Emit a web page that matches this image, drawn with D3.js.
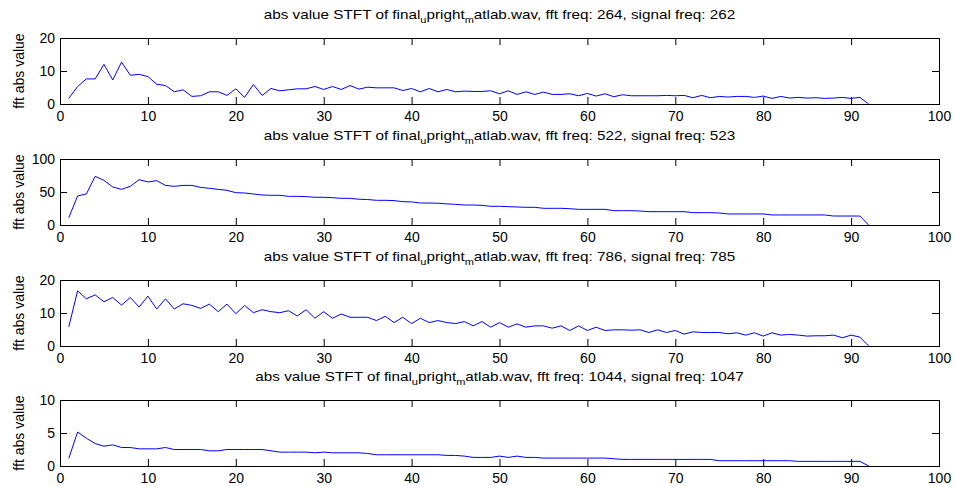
<!DOCTYPE html>
<html>
<head>
<meta charset="utf-8">
<script src="https://cdn.jsdelivr.net/npm/d3@7"></script>
<style>
  html, body { margin: 0; padding: 0; background: #fff; }
  svg { display: block; }
  text { font-family: "Liberation Sans", Arial, Helvetica, sans-serif; fill: #000; }
</style>
</head>
<body>
<svg id="chart" width="955" height="486"></svg>
<script>
// Frequency bins 1..92
const bins = d3.range(1, 93);

// |STFT| at each analysed frequency
const mag264 = [1.7,5.3,7.6,7.6,12.0,7.3,12.7,8.7,9.0,8.3,6.0,5.6,3.7,4.3,2.3,2.5,3.7,3.7,2.6,4.6,
  2.0,5.9,2.6,4.7,4.0,4.3,4.6,4.6,5.3,4.4,5.3,4.4,5.6,4.5,5.1,4.9,4.9,4.9,4.1,4.7,
  3.7,4.7,3.7,4.4,3.7,3.9,3.8,3.8,4.0,3.1,4.0,2.9,3.7,2.9,3.6,2.9,2.9,3.1,2.5,3.2,
  2.4,3.1,2.2,2.8,2.5,2.5,2.5,2.5,2.6,2.5,2.6,1.9,2.6,1.9,2.3,2.1,2.3,2.3,2.0,2.4,
  1.7,2.3,1.8,2.0,1.8,1.9,1.7,1.8,2.0,1.7,2.0,0];
const mag522 = [11.1,44,47,73.7,67.7,57.6,54,58.6,68.7,65.2,67.2,60,58.6,60,60,57,55.6,54,52.5,49,
  48.5,47,45.5,45,45,43.4,43.4,43,42,42,41.4,40.4,40.4,39,38.6,37.4,37.4,37,35.4,35,
  33.3,33.3,33,32,31.3,30.3,30.3,29.8,28.3,28.3,27.8,27.3,26.8,26.8,25.3,25.3,25.3,24.7,23.7,23.7,
  23.7,23.7,21.7,21.7,21.7,21.2,20.2,20.2,20.2,20.2,20.2,18.7,18.7,18.7,18.2,16.7,16.7,16.7,16.7,16.7,
  15.2,15.2,15.2,15.2,15.2,15.2,15.2,13.6,13.6,13.6,13.6,0];
const mag786 = [5.8,16.7,14.3,15.5,13.4,14.7,12.4,14.7,11.8,15.1,11.2,14.3,11.2,12.8,12.3,11.4,12.7,10.4,12.7,9.8,
  12.3,10.1,11.0,10.4,10.1,10.7,9.1,11.0,8.4,10.4,8.4,9.7,8.7,8.7,8.7,7.7,9.0,7.1,8.7,6.8,
  8.4,7.1,7.7,7.1,6.8,7.4,6.1,7.4,5.7,7.1,5.7,6.7,5.7,6.1,6.1,5.4,6.1,4.7,6.1,4.7,
  5.7,4.7,4.9,4.9,4.8,4.9,4.1,4.9,4.1,4.7,3.6,4.3,4.1,4.1,4.1,3.7,4.0,3.3,4.0,3.0,
  4.0,3.3,3.5,3.3,3.0,3.1,3.1,3.3,2.5,3.3,2.7,0];
const mag1044 = [1.16,5.15,4.2,3.4,3.0,3.2,2.8,2.8,2.6,2.6,2.6,2.8,2.5,2.5,2.5,2.5,2.3,2.3,2.5,2.5,
  2.5,2.5,2.5,2.3,2.1,2.1,2.1,2.1,2.0,2.1,2.0,2.0,2.0,2.0,1.9,1.7,1.7,1.7,1.7,1.7,
  1.7,1.7,1.7,1.6,1.6,1.5,1.3,1.3,1.3,1.5,1.3,1.5,1.3,1.3,1.2,1.2,1.2,1.2,1.2,1.2,
  1.2,1.2,1.1,1.0,1.0,1.0,1.0,1.0,1.0,1.0,1.0,1.0,1.0,1.0,0.8,0.8,0.8,0.8,0.8,0.8,
  0.8,0.8,0.8,0.7,0.7,0.7,0.7,0.7,0.7,0.7,0.7,0];

const fftFreqs = [264, 522, 786, 1044];
const signalFreqs = [262, 523, 785, 1047];
const series = [mag264, mag522, mag786, mag1044];
const yMaxes = [20, 100, 20, 10];
const yTickSets = [[0,10,20],[0,50,100],[0,10,20],[0,5,10]];
const xTicks = [0,10,20,30,40,50,60,70,80,90,100];
const yLabel = "fft abs value";

const svg = d3.select("#chart");
const left = 60, right = 939, plotH = 66;
const tops = [38, 159, 280, 400];
const tickLen = 7;
const titleWidth = 472;   // rendered width of the first title, wide-set like the tick labels
let titleStretch = null;

const x = d3.scaleLinear().domain([0, 100]).range([left, right]);

series.forEach((vals, i) => {
  const top = tops[i], bottom = top + plotH;
  const y = d3.scaleLinear().domain([0, yMaxes[i]]).range([bottom, top]);
  const g = svg.append("g");

  // data line
  const line = d3.line().x((d, k) => x(bins[k])).y(d => y(d));
  g.append("path").datum(vals)
    .attr("d", line)
    .attr("fill", "none")
    .attr("stroke", "#0000ff")
    .attr("stroke-width", 1);

  // axes with inward ticks on all four sides
  const ax = (axis, tx, ty, labels) => {
    const a = g.append("g").attr("transform", `translate(${tx},${ty})`).call(axis);
    a.select(".domain").remove();
    a.selectAll(".tick line").attr("stroke", "#000").attr("stroke-width", 1);
    a.selectAll(".tick text").style("font-size", "14px").attr("fill", "#000");
    if (!labels) a.selectAll(".tick text").remove();
    return a;
  };
  ax(d3.axisBottom(x).tickValues(xTicks).tickFormat(d3.format("d")).tickSizeInner(-tickLen).tickSizeOuter(0).tickPadding(7), 0, bottom, true);
  ax(d3.axisTop(x).tickValues(xTicks).tickSizeInner(-tickLen).tickSizeOuter(0), 0, top, false);
  ax(d3.axisLeft(y).tickValues(yTickSets[i]).tickFormat(d3.format("d")).tickSizeInner(-tickLen).tickSizeOuter(0).tickPadding(5), left, 0, true);
  ax(d3.axisRight(y).tickValues(yTickSets[i]).tickSizeInner(-tickLen).tickSizeOuter(0), right, 0, false);

  // box
  g.append("rect")
    .attr("x", left + 0.5).attr("y", top + 0.5)
    .attr("width", right - left).attr("height", plotH)
    .attr("fill", "none").attr("stroke", "#000").attr("stroke-width", 1);

  // y label
  g.append("text")
    .attr("transform", `translate(${left - 36},${(top + bottom) / 2}) rotate(-90)`)
    .attr("text-anchor", "middle")
    .style("font-size", "14px")
    .text(yLabel);

  // title with TeX-style subscripts, set slightly wide
  const tg = g.append("g");
  const t = tg.append("text")
    .attr("x", 0)
    .attr("y", 0)
    .attr("text-anchor", "middle")
    .style("font-size", "12.5px");
  t.append("tspan").text("abs value STFT of final");
  t.append("tspan").attr("dy", 4).style("font-size", "9px").text("u");
  t.append("tspan").attr("dy", -4).text("pright");
  t.append("tspan").attr("dy", 4).style("font-size", "9px").text("m");
  t.append("tspan").attr("dy", -4).text(`atlab.wav, fft freq: ${fftFreqs[i]}, signal freq: ${signalFreqs[i]}`);
  if (titleStretch === null) titleStretch = titleWidth / t.node().getComputedTextLength();
  tg.attr("transform", `translate(${(left + right) / 2},${top - 19}) scale(${titleStretch},1)`);
});
</script>
</body>
</html>
